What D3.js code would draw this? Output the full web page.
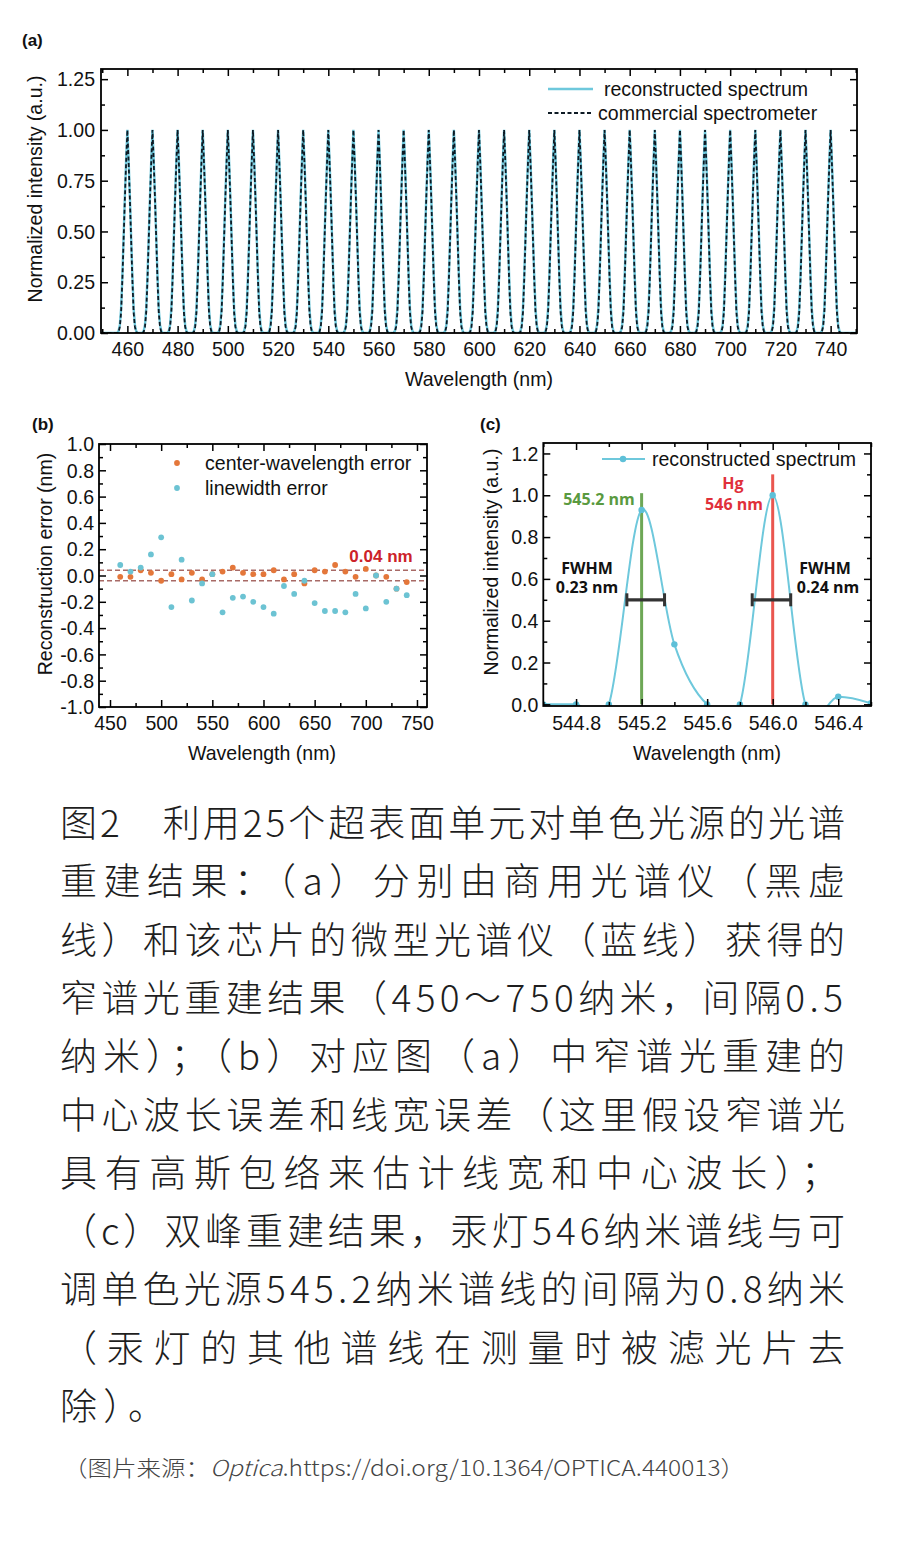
<!DOCTYPE html>
<html><head><meta charset="utf-8">
<script src="https://cdn.jsdelivr.net/npm/d3@7/dist/d3.min.js"></script>
<style>body{margin:0;background:#fff;} svg{display:block;}</style>
</head><body>
<svg id="fig" width="900" height="1545"></svg>
<script>
// ---------------- DATA ----------------
// (a) narrow-band peaks
const peakCenters = [460,470,480,490,500,510,520,530,540,550,560,570,580,590,600,610,620,630,640,650,660,670,680,690,700,710,720,730,740];
const profileOffsets = [-4,-3.5,-3,-2.5,-2,-1.5,-1,-0.5,0,0.5,1,1.5,2,2.5,3,3.5,4];
const commercialProfile    = [0,0.005,0.03,0.10,0.26,0.46,0.66,0.84,1.0,0.84,0.66,0.46,0.26,0.10,0.03,0.005,0];
const reconstructedProfile = [0,0.01,0.04,0.12,0.28,0.47,0.67,0.85,1.0,0.85,0.67,0.47,0.28,0.12,0.04,0.01,0];
const aXTicks = [460,480,500,520,540,560,580,600,620,640,660,680,700,720,740];
const aXMinor = [450,470,490,510,530,550,570,590,610,630,650,670,690,710,730,750];
const aYTicks = [0,0.25,0.5,0.75,1.0,1.25];
const aYMinor = [0.125,0.375,0.625,0.875,1.125];
const aLegend = ["reconstructed spectrum","commercial spectrometer"];

// (b) reconstruction errors
const errWavelengths = [460,470,480,490,500,510,520,530,540,550,560,570,580,590,600,610,620,630,640,650,660,670,680,690,700,710,720,730,740];
const centerError    = [-0.01,-0.01,0.04,0.02,-0.04,0.01,-0.03,0.02,-0.03,0.01,0.03,0.06,0.02,0.01,0.01,0.04,-0.03,0.01,-0.06,0.04,0.03,0.08,0.03,-0.01,0.05,0.00,-0.01,-0.10,-0.05];
const linewidthError = [0.08,0.03,0.06,0.16,0.29,-0.24,0.12,-0.19,-0.06,0.01,-0.28,-0.17,-0.16,-0.20,-0.24,-0.29,-0.08,-0.14,-0.04,-0.21,-0.27,-0.27,-0.28,-0.14,-0.25,0.00,-0.20,-0.10,-0.15];
const bThreshold = 0.04;
const bXTicks = [450,500,550,600,650,700,750];
const bXMinor = [475,525,575,625,675,725];
const bYTicks = [-1.0,-0.8,-0.6,-0.4,-0.2,0.0,0.2,0.4,0.6,0.8,1.0];
const bYMinor = [-0.9,-0.7,-0.5,-0.3,-0.1,0.1,0.3,0.5,0.7,0.9];
const bLegend = ["center-wavelength error","linewidth error"];

// (c) double-peak reconstruction
const cWavelengths = [544.6,544.8,545.0,545.2,545.4,545.6,545.8,546.0,546.2,546.4,546.6];
const cIntensity   = [0.0,0.0,0.0,0.93,0.287,0.0,0.0,1.0,0.0,0.036,0.005];
const refLineWl     = [545.2, 546.0];
const refLineTop    = [1.01, 1.10];
const fwhmStart     = [545.11, 545.875];
const fwhmEnd       = [545.34, 546.11];
const fwhmLevel     = 0.5;
const cXTicks = [544.8,545.2,545.6,546.0,546.4];
const cXMinor = [544.6,545.0,545.4,545.8,546.2,546.6];
const cYTicks = [0.0,0.2,0.4,0.6,0.8,1.0,1.2];
const cYMinor = [0.1,0.3,0.5,0.7,0.9,1.1];
const cLegend = ["reconstructed spectrum"];

// caption
const captionLines = [
 "图2　利用25个超表面单元对单色光源的光谱",
 "重建结果：（a）分别由商用光谱仪（黑虚",
 "线）和该芯片的微型光谱仪（蓝线）获得的",
 "窄谱光重建结果（450～750纳米，间隔0.5",
 "纳米）；（b）对应图（a）中窄谱光重建的",
 "中心波长误差和线宽误差（这里假设窄谱光",
 "具有高斯包络来估计线宽和中心波长）；",
 "（c）双峰重建结果，汞灯546纳米谱线与可",
 "调单色光源545.2纳米谱线的间隔为0.8纳米",
 "（汞灯的其他谱线在测量时被滤光片去",
 "除）。"
];
const sourcePrefix = "（图片来源：";
const sourceJournal = "Optica";
const sourceLink = ".https://doi.org/10.1364/OPTICA.440013）";

// ---------------- STYLE / LAYOUT ----------------
const FONT = "'Liberation Sans', Arial, Helvetica, sans-serif";
const BOLDFONT = "'Open Sans', 'Liberation Sans', Arial, sans-serif";
const FS = 21;          // chart text size
const SQUEEZE = 0.93;   // horizontal condensation of chart text
const BLUE = "#6ec8dc";
const ORANGE = "#e4773a";
const DOTBLUE = "#6cc3d3";
const svg = d3.select("#fig");

function condense(sel) {
  sel.each(function () {
    const w = this.getComputedTextLength();
    if (w > 0) d3.select(this).attr("textLength", w * SQUEEZE).attr("lengthAdjust", "spacingAndGlyphs");
  });
}

function axesFrame(g, x, y, o) {
  const [xl, xr] = x.range(), [yb, yt] = y.range();
  const add = (gen, tr) => g.append("g").attr("transform", tr).call(gen);
  add(d3.axisBottom(x).tickValues(o.xMinor).tickSize(-4).tickFormat(""), `translate(0,${yb})`);
  add(d3.axisBottom(x).tickValues(o.xMajor).tickSize(-7).tickPadding(o.xPad).tickFormat(o.xFmt), `translate(0,${yb})`);
  add(d3.axisTop(x).tickValues(o.xMinor).tickSize(-4).tickFormat(""), `translate(0,${yt})`);
  add(d3.axisTop(x).tickValues(o.xMajor).tickSize(-7).tickFormat(""), `translate(0,${yt})`);
  add(d3.axisLeft(y).tickValues(o.yMinor).tickSize(-4).tickFormat(""), `translate(${xl},0)`);
  add(d3.axisLeft(y).tickValues(o.yMajor).tickSize(-7).tickPadding(o.yPad).tickFormat(o.yFmt), `translate(${xl},0)`);
  add(d3.axisRight(y).tickValues(o.yMinor).tickSize(-4).tickFormat(""), `translate(${xr},0)`);
  add(d3.axisRight(y).tickValues(o.yMajor).tickSize(-7).tickFormat(""), `translate(${xr},0)`);
  g.selectAll(".domain").remove();
  g.selectAll(".tick line").attr("stroke", "#000").attr("stroke-width", 1.5);
  const tt = g.selectAll(".tick text").attr("font-family", FONT).attr("font-size", FS).attr("fill", "#111");
  condense(tt.filter(function () { return this.textContent.length > 0; }));
  g.append("rect").attr("x", xl).attr("y", yt).attr("width", xr - xl).attr("height", yb - yt)
    .attr("fill", "none").attr("stroke", "#000").attr("stroke-width", 1.8);
}
function clip(id, x, y) {
  const [xl, xr] = x.range(), [yb, yt] = y.range();
  svg.append("clipPath").attr("id", id).append("rect").attr("x", xl).attr("y", yt).attr("width", xr - xl).attr("height", yb - yt);
}
function label(txt, px, py, opts = {}) {
  const t = svg.append("text").attr("x", px).attr("y", py).text(txt)
    .attr("font-family", opts.font || FONT).attr("font-size", opts.size || FS)
    .attr("fill", opts.fill || "#111").attr("text-anchor", opts.anchor || "start")
    .attr("font-weight", opts.weight || 400);
  if (opts.rotate) t.attr("transform", `rotate(-90,${px},${py})`);
  if (opts.dy) t.attr("dy", opts.dy);
  if (!opts.noSqueeze) condense(t);
  return t;
}

// ---------------- PANEL (a) ----------------
{
  const x = d3.scaleLinear().domain([449.5, 750.5]).range([101, 857]);
  const y = d3.scaleLinear().domain([0, 1.30]).range([333, 69]);
  clip("clipA", x, y);
  const build = prof => {
    const pts = [[x.domain()[0], 0]];
    peakCenters.forEach(c => profileOffsets.forEach((o, i) => pts.push([c + o, prof[i]])));
    pts.push([x.domain()[1], 0]);
    return pts;
  };
  const line = d3.line().x(d => x(d[0])).y(d => y(d[1]));
  const pg = svg.append("g").attr("clip-path", "url(#clipA)");
  pg.append("path").attr("d", line(build(reconstructedProfile))).attr("fill", "none")
    .attr("stroke", BLUE).attr("stroke-width", 2.4);
  pg.append("path").attr("d", line(build(commercialProfile))).attr("fill", "none")
    .attr("stroke", "#0d1a24").attr("stroke-width", 1.8).attr("stroke-dasharray", "4,2.5");
  axesFrame(svg.append("g"), x, y, {xMajor: aXTicks, xMinor: aXMinor, yMajor: aYTicks, yMinor: aYMinor,
    xFmt: d => d, yFmt: d => d.toFixed(2), xPad: 8, yPad: 6});
  label("Wavelength (nm)", 479, 386, {anchor: "middle"});
  label("Normalized intensity (a.u.)", 42, 189, {anchor: "middle", rotate: true});
  label("(a)", 22, 46, {weight: 700, size: 17, noSqueeze: true});
  // legend
  svg.append("line").attr("x1", 548).attr("x2", 593).attr("y1", 89).attr("y2", 89).attr("stroke", BLUE).attr("stroke-width", 2.4);
  label(aLegend[0], 604, 89, {dy: "0.35em"});
  svg.append("line").attr("x1", 548).attr("x2", 593).attr("y1", 113).attr("y2", 113).attr("stroke", "#0d1a24")
    .attr("stroke-width", 1.8).attr("stroke-dasharray", "4,2.5");
  label(aLegend[1], 598, 113, {dy: "0.35em"});
}

// ---------------- PANEL (b) ----------------
{
  const x = d3.scaleLinear().domain([439.25, 759.8]).range([99, 427]);
  const y = d3.scaleLinear().domain([-1, 1]).range([707, 444]);
  clip("clipB", x, y);
  const pg = svg.append("g").attr("clip-path", "url(#clipB)");
  [bThreshold, -bThreshold].forEach(v => {
    pg.append("line").attr("x1", x.range()[0]).attr("x2", x.range()[1]).attr("y1", y(v)).attr("y2", y(v))
      .attr("stroke", "#a86a66").attr("stroke-width", 1.4).attr("stroke-dasharray", "5,3");
  });
  pg.selectAll(".ce").data(errWavelengths).enter().append("circle")
    .attr("cx", d => x(d)).attr("cy", (d, i) => y(centerError[i])).attr("r", 2.9).attr("fill", ORANGE);
  pg.selectAll(".lw").data(errWavelengths).enter().append("circle")
    .attr("cx", d => x(d)).attr("cy", (d, i) => y(linewidthError[i])).attr("r", 2.9).attr("fill", DOTBLUE);
  axesFrame(svg.append("g"), x, y, {xMajor: bXTicks, xMinor: bXMinor, yMajor: bYTicks, yMinor: bYMinor,
    xFmt: d => d, yFmt: d => d.toFixed(1), xPad: 8, yPad: 5});
  label("Wavelength (nm)", 262, 760, {anchor: "middle"});
  label("Reconstruction error (nm)", 52, 564, {anchor: "middle", rotate: true});
  label("(b)", 32, 430, {weight: 700, size: 17, noSqueeze: true});
  label(bThreshold.toFixed(2) + " nm", 381, 562, {anchor: "middle", weight: 700, size: 17, fill: "#cc2229", noSqueeze: true});
  // legend
  svg.append("circle").attr("cx", 177).attr("cy", 463).attr("r", 2.9).attr("fill", ORANGE);
  label(bLegend[0], 205, 463, {dy: "0.35em"});
  svg.append("circle").attr("cx", 177).attr("cy", 488).attr("r", 2.9).attr("fill", DOTBLUE);
  label(bLegend[1], 205, 488, {dy: "0.35em"});
}

// ---------------- PANEL (c) ----------------
{
  const x = d3.scaleLinear().domain([544.6, 546.6]).range([543.3, 871]);
  const y = d3.scaleLinear().domain([-0.008, 1.25]).range([706, 443]);
  clip("clipC", x, y);
  const pg = svg.append("g").attr("clip-path", "url(#clipC)");
  const lineColors = ["#5e9e44", "#e8443c"];
  refLineWl.forEach((wl, i) => {
    pg.append("line").attr("x1", x(wl)).attr("x2", x(wl)).attr("y1", y(0)).attr("y2", y(refLineTop[i]))
      .attr("stroke", lineColors[i]).attr("stroke-width", 3).attr("opacity", 0.9);
  });
  const pts = cWavelengths.map((w, i) => [w, cIntensity[i]]);
  const line = d3.line().x(d => x(d[0])).y(d => y(d[1])).curve(d3.curveCardinal.tension(0));
  pg.append("path").attr("d", line(pts)).attr("fill", "none").attr("stroke", BLUE).attr("stroke-width", 2);
  pg.selectAll(".m").data(pts).enter().append("circle").attr("cx", d => x(d[0])).attr("cy", d => y(d[1]))
    .attr("r", 3.2).attr("fill", "#5ec0d8");
  fwhmStart.forEach((s, i) => {
    const yy = y(fwhmLevel);
    svg.append("line").attr("x1", x(s)).attr("x2", x(fwhmEnd[i])).attr("y1", yy).attr("y2", yy)
      .attr("stroke", "#333").attr("stroke-width", 3.2);
    [s, fwhmEnd[i]].forEach(v => svg.append("line").attr("x1", x(v)).attr("x2", x(v)).attr("y1", yy - 6.5).attr("y2", yy + 6.5)
      .attr("stroke", "#333").attr("stroke-width", 3));
  });
  axesFrame(svg.append("g"), x, y, {xMajor: cXTicks, xMinor: cXMinor, yMajor: cYTicks, yMinor: cYMinor,
    xFmt: d => d.toFixed(1), yFmt: d => d.toFixed(1), xPad: 9, yPad: 5});
  label("Wavelength (nm)", 707, 760, {anchor: "middle"});
  label("Normalized intensity (a.u.)", 498, 562, {anchor: "middle", rotate: true});
  label("(c)", 480, 430, {weight: 700, size: 17, noSqueeze: true});
  const bopt = {anchor: "middle", weight: 700, size: 16, font: BOLDFONT, noSqueeze: true};
  label(refLineWl[0].toFixed(1) + " nm", 599, 505, Object.assign({}, bopt, {fill: "#5a9a40"}));
  label("Hg", 733, 489, Object.assign({}, bopt, {fill: "#e0303a"}));
  label(refLineWl[1].toFixed(0) + " nm", 734, 510, Object.assign({}, bopt, {fill: "#e0303a"}));
  label("FWHM", 587, 574, Object.assign({}, bopt, {fill: "#111"}));
  label((fwhmEnd[0] - fwhmStart[0]).toFixed(2) + " nm", 587, 593, Object.assign({}, bopt, {fill: "#111"}));
  label("FWHM", 825, 574, Object.assign({}, bopt, {fill: "#111"}));
  label((fwhmEnd[1] - fwhmStart[1]).toFixed(2) + " nm", 828, 593, Object.assign({}, bopt, {fill: "#111"}));
  // legend
  svg.append("line").attr("x1", 602).attr("x2", 645).attr("y1", 459).attr("y2", 459).attr("stroke", BLUE).attr("stroke-width", 2);
  svg.append("circle").attr("cx", 623).attr("cy", 459).attr("r", 3.2).attr("fill", "#5ec0d8");
  label(cLegend[0], 652, 459, {dy: "0.35em"});
}

// ---------------- CAPTION ----------------
{
  const CJK = "'Noto Sans CJK SC', 'Noto Sans', sans-serif";
  const lens = [785, 785, 785, 783, 785, 785, 778, 785, 785, 785, 105];
  captionLines.forEach((s, i) => {
    const t = svg.append("text").attr("x", 60).attr("y", 821 + i * 58.3).attr("dominant-baseline", "central")
      .attr("font-family", CJK).attr("font-size", 37).attr("font-weight", 300).attr("fill", "#1e1e1e").text(s);
    if (lens[i]) t.attr("textLength", lens[i]).attr("lengthAdjust", "spacing");
  });
  const src = svg.append("text").attr("x", 63).attr("y", 1466).attr("dominant-baseline", "central")
    .attr("font-family", CJK).attr("font-size", 22).attr("font-weight", 300).attr("fill", "#444")
    .attr("textLength", 682).attr("lengthAdjust", "spacingAndGlyphs");
  src.append("tspan").text(sourcePrefix);
  src.append("tspan").attr("font-style", "italic").text(sourceJournal);
  src.append("tspan").text(sourceLink);
}
</script>
</body></html>
